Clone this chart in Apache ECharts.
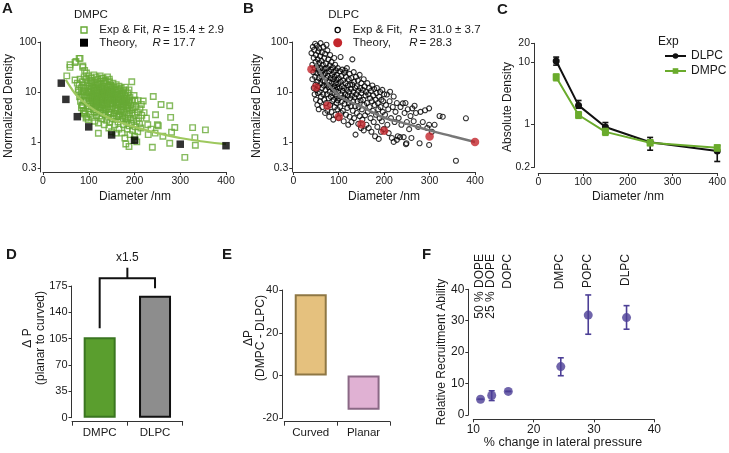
<!DOCTYPE html>
<html><head><meta charset="utf-8">
<script src="https://cdn.jsdelivr.net/npm/echarts@6/dist/echarts.min.js"></script>
<style>html,body{margin:0;padding:0;background:#fff}#c{width:729px;height:453px}</style>
</head><body><div id="c"></div>
<script>
// ---------- Panel A: DMPC ----------
const dmpcExp = [
[52,21],[59,31],[72,41],[81,47],[87,31],[87,33],[91,27],[95,24],[59,35],[70,39],[79,47],
[70,17.4],[77,11],[79,13.8],[75,15],[78,10],[80,8],[81,18],[82,6.5],[83,9],[84,12],[84,4.8],[85,5.5],[86,16],[86,8.2],[87,5.3],[88,10],[88,13.5],[88,4.2],[89,6.8],[89,3.8],[90,20],[90,7.8],[91,3.6],[91,11],
[92,4.1],[93,12],[94,6.5],[94,3],[95,18],[96,3.2],[96,8.8],[97,15],[98,5.2],[98,10.5],[99,2.8],[100,7.4],[100,21],[100,10],[101,13],[101,4.6],[102,9.6],[103,6],[103,17],[104,3.6],[104,8.2],[105,11.5],[105,7.9],[105,15.5],
[106,5.1],[106,19],[106,10.2],[107,14],[108,8.5],[108,3.1],[108,6.9],[109,6.6],[110,12.5],[110,4.4],[110,8],[110,5.9],[111,22],[111,9.3],[112,5.8],[112,16],[112,11.8],[112,3.9],[113,2.6],[113,7.2],[114,10.8],[114,7.5],[115,4.9],[115,13.5],[115,5.3],[116,6.2],[116,20],[116,9.3],[117,8.2],[117,3.4],[118,11],[118,5.5],[118,6.5],[119,15],[119,7],[120,4],[120,9.8],[120,18],[120,7.8],[120,14],
[121,6.1],[121,2.4],[121,1.49],[122,12],[122,8.4],[122,10.8],[123,5],[123,14.5],[124,10],[124,3.3],[124,6.9],[125,7.2],[125,21],[125,4.8],[126,4.4],[126,16.5],[126,12.5],[127,9],[127,6.3],[128,2.9],[128,11.8],[128,7.8],[128,18.5],[129,5.6],[129,8],[130,13],[130,3.8],[130,9.5],[130,5.4],[131,7],[131,19],[132,10.5],[132,4.8],[132,6.8],[133,6],[133,15],[134,2.2],[134,8.8],[134,11],[135,12],[135,5.3],[135,4.3],[135,16.5],
[136,3.5],[136,9.5],[136,7.7],[137,17],[137,7],[138,4.5],[138,11],[138,8.6],[139,6.2],[139,2.7],[140,14],[140,8],[140,10.8],[140,5.8],[141,5],[141,20],[142,3.1],[142,10],[142,7.6],[143,6.8],[143,12.5],[144,4],[144,1.9],[144,9.8],[145,8.8],[145,16],[145,3.9],[145,18],[146,5.6],[146,2.5],[146,12.5],[147,11],[147,7.2],[148,3.6],[148,13.5],[148,8.1],[149,6],[149,9.2],[150,4.5],[150,1.6],[150,10.4],[150,5.9],[150,13],
[151,11.5],[152,7.5],[152,2.9],[152,9.9],[153,5.2],[153,15],[154,9],[154,6.9],[155,3.8],[155,6.4],[155,3.3],[156,12.5],[156,8.6],[157,2.2],[157,8],[158,4.8],[158,7],[159,10],[159,1.5],[160,6],[160,14],[160,9.2],[160,4.6],[161,3.2],[162,7.4],[162,11],[162,5.6],[163,4.2],[164,2.5],[164,9],[164,7.8],[165,5.5],[165,3.4],[165,11.5],[166,13],[166,1.8],[166,6.2],[167,7],[168,3.6],[168,10.5],[168,8.4],[169,5],[170,8],[170,2.8],[170,5.8],[170,4],
[171,12],[172,4.4],[172,6.5],[172,9],[173,1.5],[174,9.5],[174,3.3],[174,6.8],[175,5.5],[175,2.9],[176,11],[176,2.2],[176,5],[177,7.5],[178,4],[178,6.4],[179,1.2],[179,8.8],[180,3],[180,6],[180,8],[180,12.5],[181,10.5],[181,0.91],[182,4.6],[182,5.5],[183,2.5],[183,7],[184,1.8],[184,7.4],[185,5.2],[185,9.5],[185,2.9],[186,3.5],[186,4.8],[187,6.5],[188,2.1],[188,11],[188,6.2],[188,0.81],[189,4.2],[190,1.4],[190,7.8],
[191,3],[192,5.5],[193,2.4],[194,16],[194,6.8],[195,3.8],[195,4.5],[196,1.7],[197,4.8],[198,2.8],[199,8.5],[200,1.3],[201,6.9],[201,3.4],[201,1.1],[202,2],[203,5],[205,2.6],[205,1.0],[206,4],[207,1.6],[208,6.7],[209,3],[211,2.3],[212,4.6],[214,1.9],[215,5.6],[216,3.4],
[219,6.6],[221,3.85],[226,3],[229,2.2],[230,1.4],[236,1.8],[239,0.78],[241,8.1],[245,1.5],[246,3.5],[250,2.2],[252,2.1],[258,5.6],[262,1.3],[277,5.3],[277,0.94],[279,3.1],[281,1.56],[288,1.95],[310,0.49],[327,1.93],[332,1.22],[333,0.86],[355,1.74]
];
const dmpcFit = [[50,17.5],[60,12.5],[75,8.3],[100,5.2],[125,3.7],[150,2.85],[175,2.35],[200,2.0],[250,1.5],[300,1.2],[350,1.02],[400,0.9]];
const dmpcTheory = [[40,15],[50,7.1],[75,3.2],[100,2.0],[150,1.38],[200,1.08],[300,0.9],[400,0.84]];

// ---------- Panel B: DLPC ----------
const dlpcExp = [
[40,60],[42,35],[42,18],[43,80],[44,25],[45,12],[45,48],[46,70],[47,9],[47,30],[48,20],[48,92],[49,14],[49,40],[50,7],[50,55],[51,24],[51,11],[52,85],[52,33],[53,16],[53,5.5],[54,45],[54,9.5],[55,28],[55,65],[55,13],
[56,19],[56,4.5],[57,75],[57,38],[58,10],[58,25],[59,6.5],[59,52],[60,15],[60,95],[61,30],[61,8],[62,20],[62,42],[63,12],[63,62],[64,5],[64,26],[65,17],[65,35],[66,80],[66,9],[67,22],[67,13.5],[68,48],[68,7],[69,29],[69,16],[70,3.8],[70,58],[71,11],[71,24],[72,37],[72,6],[73,19],[73,88],[74,14],[74,9],[75,30],[75,4.2],[75,68],
[76,21],[77,12.5],[77,45],[78,7.5],[78,26],[79,16],[79,3.2],[80,34],[80,10],[81,55],[81,5.5],[82,19],[82,13],[83,8],[83,28],[84,40],[84,4],[85,15],[85,22],[86,9.5],[86,6.5],[87,31],[87,11.5],[88,2.8],[88,18],[89,25],[89,7],[90,13],[90,48],[91,5],[91,20],[92,9],[92,35],[93,15],[93,3.5],[94,27],[94,11],[95,6],[95,17.5],[96,22],[96,8],[97,4.5],[97,12.5],[98,30],[98,6.8],[99,14.5],[99,10],[100,19],[100,3],
[101,7.5],[102,26],[102,12],[103,5],[104,50],[104,16],[105,9],[105,3.8],[106,21],[107,6.5],[107,13],[108,28],[109,10.5],[109,4.2],[110,17],[110,7.8],[111,2.6],[112,24],[112,12],[113,5.8],[114,26.7],[114,9],[115,15],[116,3.5],[116,20],[117,7],[118,11],[118,30],[119,4.8],[120,13.5],[120,8.5],[121,2.2],[122,18],[122,6],[123,10],[124,23],[124,3.2],[125,7.5],[125,14],
[126,5.2],[127,11.5],[128,19],[128,2.5],[129,8.5],[130,45],[130,14],[131,4.2],[132,6.5],[132,10],[133,25],[134,3],[134,16],[135,7.8],[136,12],[137,1.4],[137,5.2],[138,20],[139,9],[140,3.8],[140,13],[141,6.5],[142,17],[143,2.3],[143,10.5],[144,5],[145,8],[146,22],[146,3.3],[147,12],[148,6.8],[149,1.9],[150,9.5],[150,15],
[151,4.5],[152,2.8],[153,11],[154,7],[155,18],[155,1.7],[156,5.5],[157,13],[158,3.4],[159,8.5],[160,10],[161,2.2],[162,6],[163,15],[164,4],[165,9],[166,1.9],[167,12],[168,5],[169,7.5],[170,3],[171,10.5],[172,1.6],[173,6.5],[174,13.5],[175,4.2],
[176,8.5],[177,2.5],[178,11.5],[179,5.5],[180,1.3],[181,7],[182,3.5],[183,9.5],[184,12],[185,2],[186,6],[187,4.5],[188,1.15],[189,8],[190,3],[191,10],[192,5],[193,1.6],[194,7],[195,2.6],[196,11],[197,4],[198,6.5],[199,1.8],[200,9],
[202,3.5],[204,5.5],[206,8.9],[207,2.2],[209,4.5],[210,1.5],[212,6.5],[213,10.1],[215,3],[217,1.2],[219,5],[221,8.1],[221,1.0],[223,2.5],[225,4],[228,6],[228,1.1],[230,1.3],[232,3],[235,1.25],[236,5],[238,2.2],[241,5.9],[243,1.25],[245,3.8],[247,6],[248,0.9],[249,0.94],[250,2.5],[252,4.5],[255,1.8],[258,3.3],[260,1.2],[262,4.7],[265,2.6],[267,5.3],[270,3.8],[275,2],[278,0.94],[280,4],[285,2.5],[290,4.3],[295,1.9],[299,4.7],[299,2.2],[299,0.87],[305,1.6],[311,2.2],[322,3.3],[329,3.2],[358,0.42],[380,2.97]
];
const dlpcFit = [[48,38],[60,24],[75,15],[100,8.5],[125,6.3],[150,5.1],[175,3.9],[200,3.05],[250,2.3],[300,1.7],[350,1.3],[400,1.0]];
const dlpcTheory = [[40,28.5],[50,12.4],[75,5.3],[100,3.2],[150,2.25],[200,1.68],[300,1.28],[400,1.0]];

// ---------- Panel C ----------
const cDiam = [40, 90, 150, 250, 400];
const cDLPC = [10.4, 2.0, 0.9, 0.51, 0.37];
const cDLPCLo = [8.9, 1.8, 0.76, 0.38, 0.25];
const cDLPCHi = [12, 2.4, 1.06, 0.61, 0.45];
const cDMPC = [5.7, 1.4, 0.75, 0.5, 0.415];
const cDMPCLo = [5.0, 1.24, 0.66, 0.45, 0.37];
const cDMPCHi = [6.4, 1.58, 0.85, 0.56, 0.46];

// ---------- Panels D, E ----------
const dCats = ['DMPC', 'DLPC'];
const dVals = [107, 162];
const eCats = ['Curved', 'Planar'];
const eVals = [38, -16];

// ---------- Panel F ----------
const fLipids = ['50 % DOPE', '25 % DOPE', 'DOPC', 'DMPC', 'POPC', 'DLPC'];
const fX = [11.2, 13.05, 15.8, 24.5, 29.05, 35.4];
const fY = [5.0, 6.2, 7.5, 15.4, 31.8, 31.0];
const fLo = [5.0, 4.6, 7.5, 12.5, 25.7, 27.3];
const fHi = [5.0, 7.7, 7.5, 18.2, 38.2, 34.8];

// ---------- tick labels ----------
const logTicksAB = [0.3, 1, 10, 100];
const logTicksC = [0.2, 1, 10, 20];

(function () {
const FF = 'Liberation Sans, Arial, Helvetica, sans-serif';
const INK = '#1a1a1a';
const GREEN = '#66a935';

function txt(text, x, y, o) {
  o = o || {};
  return {type: 'text', x: x, y: y, rotation: o.rot || 0, z: 100, silent: true,
    style: {text: text, fill: o.color || INK, fontSize: o.size || 12, fontFamily: FF,
      fontWeight: o.bold ? 'bold' : 'normal', fontStyle: o.italic ? 'italic' : 'normal',
      align: o.align || 'center', verticalAlign: o.va || 'middle'}};
}
function axisBase(gi, extra) {
  const e = extra || {};
  const ax = {
    gridIndex: gi, type: e.type || 'value',
    axisLine: {show: true, onZero: false, lineStyle: {color: '#333', width: 1}},
    axisTick: Object.assign({show: true, length: 3, lineStyle: {color: '#333'}}, e.tick || {}),
    axisLabel: Object.assign({color: INK, fontSize: 10.5, margin: 4, fontFamily: FF}, e.label || {}),
    splitLine: {show: false}
  };
  ['min', 'max', 'interval', 'offset', 'data', 'logBase', 'boundaryGap'].forEach(k => { if (e[k] !== undefined) ax[k] = e[k]; });
  return ax;
}
const fmtNum = v => String(+(+v).toPrecision(3));

function errBar(color, cap, lw) {
  return function (params, api) {
    const x = api.value(0), lo = api.value(1), hi = api.value(2);
    const a = api.coord([x, lo]), b = api.coord([x, hi]);
    const st = {stroke: color, lineWidth: lw};
    return {type: 'group', children: [
      {type: 'line', shape: {x1: a[0], y1: a[1], x2: b[0], y2: b[1]}, style: st},
      {type: 'line', shape: {x1: a[0] - cap, y1: a[1], x2: a[0] + cap, y2: a[1]}, style: st},
      {type: 'line', shape: {x1: b[0] - cap, y1: b[1], x2: b[0] + cap, y2: b[1]}, style: st}
    ]};
  };
}

const dStyles = [
  {color: '#5a9e2e', borderColor: '#3a7620', borderWidth: 2},
  {color: '#8d8d8d', borderColor: '#111', borderWidth: 2}
];
const eStyles = [
  {color: '#e5c17e', borderColor: '#8e7744', borderWidth: 2},
  {color: '#e0b1d3', borderColor: '#8a6885', borderWidth: 2}
];

const chart = echarts.init(document.getElementById('c'), null, {renderer: 'canvas'});

const option = {
  animation: false,
  backgroundColor: '#fff',
  textStyle: {fontFamily: FF},
  grid: [
    {left: 43, top: 42, width: 183, height: 130},
    {left: 293.3, top: 42, width: 181.7, height: 130},
    {left: 538.3, top: 43.3, width: 180, height: 124.2},
    {left: 72, top: 286, width: 110.7, height: 131.7},
    {left: 284.3, top: 290, width: 105.7, height: 128.3},
    {left: 473.3, top: 289.3, width: 181, height: 125.7}
  ],
  xAxis: [
    axisBase(0, {min: 0, max: 400, interval: 100}),
    axisBase(1, {min: 0, max: 400, interval: 100}),
    axisBase(2, {min: 0, max: 400, interval: 100, offset: 5.5}),
    axisBase(3, {type: 'category', data: dCats, offset: 4, tick: {length: 4}, label: {fontSize: 11.5, margin: 5}}),
    axisBase(4, {type: 'category', data: eCats, offset: 3.4, tick: {length: 4}, label: {fontSize: 11.5, margin: 5}}),
    axisBase(5, {min: 10, max: 40, interval: 10, offset: 4.3, label: {fontSize: 12, margin: 4}})
  ],
  yAxis: [
    axisBase(0, {type: 'log', logBase: 10, min: 0.25, max: 100, offset: 2.3,
      tick: {customValues: logTicksAB}, label: {customValues: logTicksAB, formatter: fmtNum}}),
    axisBase(1, {type: 'log', logBase: 10, min: 0.25, max: 100, offset: 1,
      tick: {customValues: logTicksAB}, label: {customValues: logTicksAB, formatter: fmtNum}}),
    axisBase(2, {type: 'log', logBase: 10, min: 0.2, max: 20, offset: 4.3,
      tick: {customValues: logTicksC}, label: {customValues: logTicksC, formatter: fmtNum}}),
    axisBase(3, {min: 0, max: 175, interval: 35, offset: 0.5, label: {fontSize: 11, margin: 4}}),
    axisBase(4, {min: -20, max: 40, interval: 20, offset: 2, label: {fontSize: 11, margin: 4}}),
    axisBase(5, {min: 0, max: 40, interval: 10, offset: 5, label: {fontSize: 12, margin: 4}})
  ],
  legend: {
    data: ['DLPC', 'DMPC'], orient: 'vertical', left: 659, top: 45,
    itemWidth: 21, itemHeight: 7, itemGap: 3,
    textStyle: {fontSize: 12, color: INK, fontFamily: FF}
  },
  series: [
    {name: 'A exp', type: 'scatter', xAxisIndex: 0, yAxisIndex: 0, data: dmpcExp, symbol: 'rect', symbolSize: 5.5,
      itemStyle: {color: 'rgba(255,255,255,0)', borderColor: GREEN, borderWidth: 1.4}, z: 2},
    {name: 'A fit', type: 'line', xAxisIndex: 0, yAxisIndex: 0, data: dmpcFit, smooth: true, symbol: 'none',
      lineStyle: {color: '#9ec85e', width: 2.2}, z: 3},
    {name: 'A theory', type: 'scatter', xAxisIndex: 0, yAxisIndex: 0, data: dmpcTheory, symbol: 'rect', symbolSize: 7.5,
      itemStyle: {color: '#000'}, z: 4},
    {name: 'B exp', type: 'scatter', xAxisIndex: 1, yAxisIndex: 1, data: dlpcExp, symbol: 'circle', symbolSize: 5,
      itemStyle: {color: 'rgba(255,255,255,0)', borderColor: '#000', borderWidth: 1.1}, z: 2},
    {name: 'B fit', type: 'line', xAxisIndex: 1, yAxisIndex: 1, data: dlpcFit, smooth: true, symbol: 'none',
      lineStyle: {color: '#777', width: 2.5}, z: 3},
    {name: 'B theory', type: 'scatter', xAxisIndex: 1, yAxisIndex: 1, data: dlpcTheory, symbol: 'circle', symbolSize: 8.5,
      itemStyle: {color: '#c3262c'}, z: 4},
    {name: 'C errDLPC', type: 'custom', xAxisIndex: 2, yAxisIndex: 2, renderItem: errBar('#111', 3, 1.6),
      data: cDiam.map((x, i) => [x, cDLPCLo[i], cDLPCHi[i]]), encode: {x: 0, y: [1, 2]}, z: 3},
    {name: 'DLPC', type: 'line', xAxisIndex: 2, yAxisIndex: 2, data: cDiam.map((x, i) => [x, cDLPC[i]]),
      symbol: 'circle', symbolSize: 7, color: '#111', lineStyle: {color: '#111', width: 2}, itemStyle: {color: '#111'}, z: 4},
    {name: 'C errDMPC', type: 'custom', xAxisIndex: 2, yAxisIndex: 2, renderItem: errBar('#6aab2c', 3, 1.6),
      data: cDiam.map((x, i) => [x, cDMPCLo[i], cDMPCHi[i]]), encode: {x: 0, y: [1, 2]}, z: 5},
    {name: 'DMPC', type: 'line', xAxisIndex: 2, yAxisIndex: 2, data: cDiam.map((x, i) => [x, cDMPC[i]]),
      symbol: 'rect', symbolSize: 7, color: '#6aab2c', lineStyle: {color: '#6aab2c', width: 2}, itemStyle: {color: '#6aab2c'}, z: 6},
    {name: 'D bars', type: 'bar', xAxisIndex: 3, yAxisIndex: 3, barWidth: 32,
      data: dVals.map((v, i) => ({value: v, itemStyle: dStyles[i]}))},
    {name: 'E bars', type: 'bar', xAxisIndex: 4, yAxisIndex: 4, barWidth: 32,
      data: eVals.map((v, i) => ({value: v, itemStyle: eStyles[i]}))},
    {name: 'F err', type: 'custom', xAxisIndex: 5, yAxisIndex: 5, renderItem: errBar('#4c3f96', 3, 1.6),
      data: fX.map((x, i) => [x, fLo[i], fHi[i]]), encode: {x: 0, y: [1, 2]}, z: 3},
    {name: 'F pts', type: 'scatter', xAxisIndex: 5, yAxisIndex: 5, data: fX.map((x, i) => [x, fY[i]]),
      symbol: 'circle', symbolSize: 9, itemStyle: {color: '#4c3f96'}, z: 4}
  ]
};
chart.setOption(option);

const g = [];
const LS = 11.5;
g.push(txt('A', 2, 8.5, {bold: true, size: 15, align: 'left'}));
g.push(txt('B', 243, 8.5, {bold: true, size: 15, align: 'left'}));
g.push(txt('C', 497, 10, {bold: true, size: 15, align: 'left'}));
g.push(txt('D', 6, 255, {bold: true, size: 15, align: 'left'}));
g.push(txt('E', 222, 255, {bold: true, size: 15, align: 'left'}));
g.push(txt('F', 422, 255, {bold: true, size: 15, align: 'left'}));
const R90 = Math.PI / 2;
g.push(txt('Normalized Density', 8.5, 106, {rot: R90}));
g.push(txt('Diameter /nm', 135, 197));
g.push(txt('Normalized Density', 256.7, 106, {rot: R90}));
g.push(txt('Diameter /nm', 384, 197));
g.push(txt('Absolute Density', 508, 107, {rot: R90}));
g.push(txt('Diameter /nm', 628, 197));
g.push(txt('\u0394 P', 28, 338, {rot: R90}));
g.push(txt('(planar to curved)', 40.5, 338, {rot: R90}));
g.push(txt('\u0394P', 249, 338, {rot: R90}));
g.push(txt('(DMPC - DLPC)', 261, 338, {rot: R90}));
g.push(txt('Relative Recruitment Ability', 441.7, 352, {rot: R90}));
g.push(txt('% change in lateral pressure', 563, 443, {size: 12.5}));
g.push(txt('DMPC', 74, 15, {align: 'left', size: LS}));
g.push({type: 'rect', shape: {x: 81, y: 27, width: 6, height: 6}, style: {fill: 'none', stroke: GREEN, lineWidth: 1.4}, z: 100});
g.push(txt('Exp & Fit,', 99.3, 30, {align: 'left', size: LS}));
g.push(txt('R', 152.5, 30, {align: 'left', italic: true, size: LS}));
g.push(txt('= 15.4 \u00b1 2.9', 163, 30, {align: 'left', size: LS}));
g.push({type: 'rect', shape: {x: 80, y: 38.7, width: 8, height: 8}, style: {fill: '#000'}, z: 100});
g.push(txt('Theory,', 99.3, 42.7, {align: 'left', size: LS}));
g.push(txt('R', 152.5, 42.7, {align: 'left', italic: true, size: LS}));
g.push(txt('= 17.7', 163, 42.7, {align: 'left', size: LS}));
g.push(txt('DLPC', 328.3, 15, {align: 'left', size: LS}));
g.push({type: 'circle', shape: {cx: 337.7, cy: 30, r: 2.6}, style: {fill: 'none', stroke: '#000', lineWidth: 1.3}, z: 100});
g.push(txt('Exp & Fit,', 352.7, 30, {align: 'left', size: LS}));
g.push(txt('R', 409.3, 30, {align: 'left', italic: true, size: LS}));
g.push(txt('= 31.0 \u00b1 3.7', 419.6, 30, {align: 'left', size: LS}));
g.push({type: 'circle', shape: {cx: 337.7, cy: 42.7, r: 4.5}, style: {fill: '#c3262c'}, z: 100});
g.push(txt('Theory,', 352.7, 42.7, {align: 'left', size: LS}));
g.push(txt('R', 409.3, 42.7, {align: 'left', italic: true, size: LS}));
g.push(txt('= 28.3', 419.6, 42.7, {align: 'left', size: LS}));
g.push(txt('Exp', 658, 42, {align: 'left'}));
const pD = v => chart.convertToPixel({xAxisIndex: 3, yAxisIndex: 3}, v);
const L1 = pD([dCats[0], 118.8]), L2 = pD([dCats[0], 185.2]), R2 = pD([dCats[1], 185.2]), R1 = pD([dCats[1], 171.9]);
const midX = (L2[0] + R2[0]) / 2;
const tickTopY = pD([dCats[0], 199.3])[1];
g.push({type: 'polyline', shape: {points: [L1, L2, R2, R1]}, style: {stroke: '#111', lineWidth: 2, fill: 'none'}, z: 100});
g.push({type: 'line', shape: {x1: midX, y1: L2[1], x2: midX, y2: tickTopY}, style: {stroke: '#111', lineWidth: 2}, z: 100});
g.push(txt('x1.5', midX, pD([dCats[0], 213])[1]));
fLipids.forEach((name, i) => {
  const p = chart.convertToPixel({xAxisIndex: 5, yAxisIndex: 5}, [fX[i], 0]);
  g.push(txt(name, p[0] - 1, 254, {rot: R90, align: 'right'}));
});
chart.setOption({graphic: g});
})();
</script>
</body></html>
